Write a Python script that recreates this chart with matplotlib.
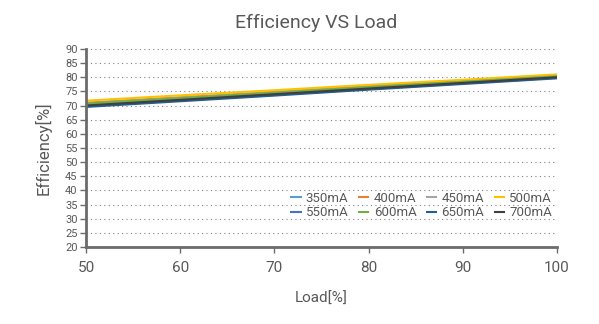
import matplotlib.pyplot as plt

load = [50, 60, 70, 80, 90, 100]

labels = ['350mA', '400mA', '450mA', '500mA', '550mA', '600mA', '650mA', '700mA']
colors = ['#5B9BD5', '#ED7D31', '#A5A5A5', '#FFC000', '#4472C4', '#70AD47', '#255E91', '#404040']

eff_350 = [70.5, 72.4, 74.4, 76.3, 78.3, 80.2]
eff_400 = [71.0, 72.9, 74.8, 76.8, 78.7, 80.6]
eff_450 = [70.8, 72.7, 74.6, 76.6, 78.5, 80.4]
eff_500 = [71.7, 73.6, 75.4, 77.3, 79.1, 81.0]
eff_550 = [69.8, 71.8, 73.8, 75.8, 77.8, 79.8]
eff_600 = [70.7, 72.6, 74.5, 76.5, 78.4, 80.3]
eff_650 = [69.5, 71.5, 73.5, 75.6, 77.6, 79.6]
eff_700 = [70.0, 72.0, 74.0, 76.0, 78.0, 80.0]
series = [eff_350, eff_400, eff_450, eff_500, eff_550, eff_600, eff_650, eff_700]

plt.rcParams['font.family'] = ['Roboto', 'DejaVu Sans']
txt = '#595959'

fig = plt.figure(figsize=(5.99, 3.24), dpi=100)
ax = fig.add_axes([0.1436, 0.2377, 0.786, 0.6113])

lines = []
for y, c, lab in zip(series, colors, labels):
    ln, = ax.plot(load, y, color=c, lw=1.5, label=lab)
    lines.append(ln)

ax.set_xlim(50, 100)
ax.set_ylim(20, 90)
ax.set_yticks(range(20, 91, 5))
ax.set_xticks(range(50, 101, 10))
ax.grid(axis='y', linestyle=(0, (1, 3)), color='#808080', lw=0.8)
ax.set_axisbelow(True)

for s in ['top', 'right']:
    ax.spines[s].set_visible(False)
for s in ['left', 'bottom']:
    ax.spines[s].set_color('#6b6b6b')
    ax.spines[s].set_linewidth(2)
ax.tick_params(axis='y', labelsize=8, colors='#6b6b6b', labelcolor=txt, length=4, width=1, pad=2)
ax.tick_params(axis='x', labelsize=11, colors='#6b6b6b', labelcolor=txt, length=4, width=1, pad=6)

ax.set_xlabel('Load[%]', fontsize=11, color=txt, labelpad=12)
ax.set_ylabel('Efficiency[%]', fontsize=12, color=txt, labelpad=10)
fig.text(0.527, 0.93, 'Efficiency VS Load', fontsize=14, color=txt, ha='center', va='center')

# legend filled row by row like the original
order = [0, 4, 1, 5, 2, 6, 3, 7]
ax.legend([lines[i] for i in order], [labels[i] for i in order],
          ncol=4, frameon=False, loc='lower right', bbox_to_anchor=(1.015, 0.08),
          fontsize=9.5, handlelength=0.7, handletextpad=0.4, columnspacing=0.8,
          labelspacing=0.1, labelcolor=txt)

fig.savefig('out.png', dpi=100)
